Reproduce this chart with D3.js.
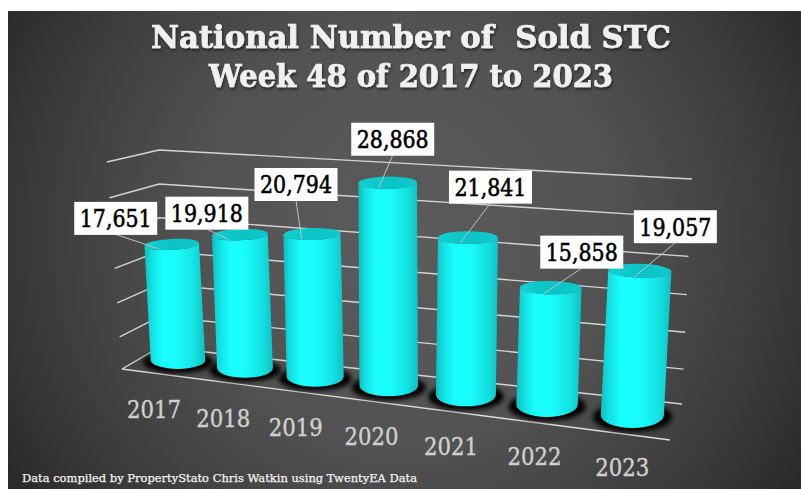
<!DOCTYPE html>
<html>
<head>
<meta charset="utf-8">
<script src="https://cdn.jsdelivr.net/npm/d3@7"></script>
<style>
html,body{margin:0;padding:0;background:#fff;overflow:hidden}
svg{display:block}
text{white-space:pre}
</style>
</head>
<body>
<svg id="chart" width="801" height="489"></svg>
<script>
// Weekly sold subject-to-contract counts
const years = ["2017", "2018", "2019", "2020", "2021", "2022", "2023"];
const soldStc = [17651, 19918, 20794, 28868, 21841, 15858, 19057];
const gridValues = [0, 5000, 10000, 15000, 20000, 25000, 30000];
const titleLines = ["National Number of  Sold STC", "Week 48 of 2017 to 2023"];
const footnote = "Data compiled by PropertyStato Chris Watkin using TwentyEA Data";

// Callout box centre relative to the top of each cylinder
const calloutDx = [-56, -33, -16, 5, 22.5, 31, 35.5];
const calloutDy = [-26, -21.5, -49.5, -43.5, -50.5, -35.5, -44];

const W = 801, H = 489;
const svg = d3.select("#chart");
const defs = svg.append("defs");

// Backdrop
const bg = defs.append("radialGradient").attr("id", "bg")
  .attr("gradientUnits", "userSpaceOnUse")
  .attr("cx", 405).attr("cy", 235).attr("r", 470);
[[0, "#5c5c5c"], [0.45, "#525252"], [0.8, "#3a3a3a"], [1, "#292929"]]
  .forEach(([o, c]) => bg.append("stop").attr("offset", o).attr("stop-color", c));
svg.append("rect").attr("x", 8).attr("y", 11).attr("width", W - 8).attr("height", H - 11)
  .attr("fill", "url(#bg)");

// Cylinder shading
const side = defs.append("linearGradient").attr("id", "side");
[[0, "#0fbcbe"], [0.1, "#13dcde"], [0.3, "#19ffff"], [0.56, "#19fbfb"], [0.84, "#14dedf"], [1, "#0fc0c2"]]
  .forEach(([o, c]) => side.append("stop").attr("offset", o).attr("stop-color", c));
const cap = defs.append("linearGradient").attr("id", "cap");
[[0, "#10d0d2"], [0.5, "#0cc3c5"], [1, "#0ec9cb"]]
  .forEach(([o, c]) => cap.append("stop").attr("offset", o).attr("stop-color", c));
defs.append("filter").attr("id", "soft").attr("x", "-30%").attr("y", "-50%")
  .attr("width", "160%").attr("height", "200%")
  .append("feGaussianBlur").attr("stdDeviation", 2.8);
const drop = defs.append("filter").attr("id", "titleShadow");
drop.append("feDropShadow").attr("dx", 1).attr("dy", 2).attr("stdDeviation", 1.1)
  .attr("flood-color", "#1c1c1c").attr("flood-opacity", 0.75);

// Perspective of the floor: cylinders get larger towards the right
const index = d3.scaleLinear().domain([0, years.length - 1]).range([0, 6]);
const nearness = i => 1 / (1 - 0.0225 * index(i));
const baseX = i => 178 + 65.5 * index(i) * nearness(i);
const baseY = i => 360 + 7.93 * index(i) * nearness(i);
const barRise = d3.scaleLinear().domain([0, 30000]).range([0, 196.5]);
const radius = i => 27.3 * nearness(i);
const baseTilt = d3.scaleLinear().domain([0, 6]).range([0.33, 0.41]);
const topTilt = d3.scaleLinear().domain([0, 6]).range([0.2, 0.22]);
const capAngle = d3.scaleLinear().domain([0, 6]).range([-3, 1.5]);
const lean = x => (x - 410) * 0.000234;

// Gridlines run around a left wall and a back wall
const level = d3.scalePow().exponent(1.04).domain([0, 30000]).range([0, 1]);
const frontX = d3.scaleLinear().domain([0, 1]).range([122, 107]);
const frontY = d3.scaleLinear().domain([0, 1]).range([369, 162]);
const cornerX = d3.scaleLinear().domain([0, 1]).range([160, 159]);
const cornerY = d3.scaleLinear().domain([0, 1]).range([347, 150]);
const rightX = d3.scaleLinear().domain([0, 1]).range([682, 692]);
const rightY = d3.scaleLinear().domain([0, 1]).range([404, 179]);
const gridPath = d3.line();

svg.append("g").selectAll("path").data(gridValues).join("path")
  .attr("d", v => {
    const t = level(v);
    return gridPath([[frontX(t), frontY(t)], [cornerX(t), cornerY(t)], [rightX(t), rightY(t)]]);
  })
  .attr("fill", "none").attr("stroke", "#d4d4d4").attr("stroke-width", 1.4);

// Front edge of the floor
svg.append("path")
  .attr("d", gridPath([[frontX(0), frontY(0)], [670, 440]]))
  .attr("fill", "none").attr("stroke", "#dcdcdc").attr("stroke-width", 1.4);

const bars = soldStc.map((value, i) => {
  const bx = baseX(i), by = baseY(i), r = radius(i);
  const h = barRise(value) * nearness(i);
  const tx = bx + h * lean(bx), ty = by - h;
  return { value, i, bx, by, r, tx, ty, rb: r * baseTilt(i), rt: r * topTilt(i), a: capAngle(i) };
});

// Contact shadows on the floor
svg.append("g").selectAll("ellipse").data(bars).join("ellipse")
  .attr("cx", d => d.bx).attr("cy", d => d.by + 2)
  .attr("rx", d => d.r + 8).attr("ry", d => d.rb + 2)
  .attr("fill", "#000").attr("filter", "url(#soft)");

// Cylinders
const barG = svg.append("g").selectAll("g").data(bars).join("g");
barG.append("path")
  .attr("fill", "url(#side)")
  .attr("d", d => {
    const ca = Math.cos(d.a * Math.PI / 180) * d.r, sa = Math.sin(d.a * Math.PI / 180) * d.r;
    return `M${d.tx - ca},${d.ty - sa}L${d.bx - d.r},${d.by}`
      + `A${d.r},${d.rb} 0 0 0 ${d.bx + d.r},${d.by}`
      + `L${d.tx + ca},${d.ty + sa}`
      + `A${d.r},${d.rt} ${d.a} 0 1 ${d.tx - ca},${d.ty - sa}Z`;
  });
barG.append("ellipse")
  .attr("cx", d => d.tx).attr("cy", d => d.ty)
  .attr("rx", d => d.r).attr("ry", d => d.rt)
  .attr("transform", d => `rotate(${d.a} ${d.tx} ${d.ty})`)
  .attr("fill", "url(#cap)");

// Value callouts
const callG = svg.append("g").selectAll("g").data(bars).join("g");
callG.append("line")
  .attr("x1", d => d.tx + calloutDx[d.i]).attr("y1", d => d.ty + calloutDy[d.i] + 16)
  .attr("x2", d => d.tx - 13 + 1.3 * d.i).attr("y2", d => d.ty + d.rt - 1)
  .attr("stroke", "#b9c4c4").attr("stroke-width", 1);
callG.append("rect")
  .attr("x", d => d.tx + calloutDx[d.i] - 41.5).attr("y", d => d.ty + calloutDy[d.i] - 16.5)
  .attr("width", 83).attr("height", 33).attr("fill", "#fff");
callG.append("text")
  .attr("x", d => d.tx + calloutDx[d.i] - 36).attr("y", d => d.ty + calloutDy[d.i] + 9)
  .attr("textLength", 72).attr("lengthAdjust", "spacingAndGlyphs")
  .attr("font-family", "'DejaVu Serif'").attr("font-size", 24).attr("fill", "#000")
  .attr("stroke", "#000").attr("stroke-width", 0.6)
  .text(d => d3.format(",")(d.value));

// Year labels
svg.append("g").selectAll("text").data(bars).join("text")
  .attr("x", d => d.bx - 24 + 2.3 * d.i).attr("y", d => d.by + 58 + 0.55 * d.i)
  .attr("text-anchor", "start").attr("dx", -27)
  .attr("textLength", 54).attr("lengthAdjust", "spacingAndGlyphs")
  .attr("font-family", "'DejaVu Serif'").attr("font-size", 24).attr("fill", "#d0d0d0")
  .attr("stroke", "#d0d0d0").attr("stroke-width", 0.4)
  .text(d => years[d.i]);

// Title
svg.append("g").attr("filter", "url(#titleShadow)").selectAll("text").data(titleLines).join("text")
  .attr("x", 411).attr("y", (d, i) => i ? 87 : 48)
  .attr("text-anchor", "middle")
  .attr("textLength", (d, i) => i ? 404 : 520).attr("lengthAdjust", "spacingAndGlyphs")
  .attr("font-family", "'DejaVu Serif'").attr("font-weight", 700).attr("font-size", 31)
  .attr("fill", "#f0f0f0").attr("stroke", "#f0f0f0").attr("stroke-width", 0.7).text(d => d);

// Source note
svg.append("text").attr("x", 22).attr("y", 482)
  .attr("textLength", 395).attr("lengthAdjust", "spacingAndGlyphs")
  .attr("font-family", "'DejaVu Serif'").attr("font-size", 11)
  .attr("fill", "#f2f2f2").attr("stroke", "#f2f2f2").attr("stroke-width", 0.25).text(footnote);
</script>
</body>
</html>
